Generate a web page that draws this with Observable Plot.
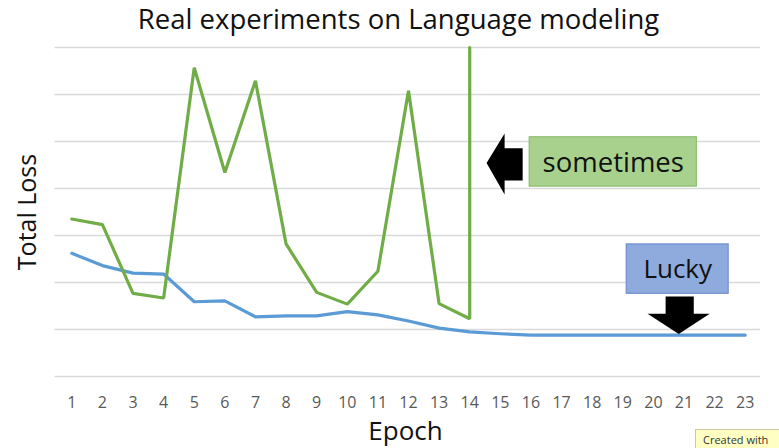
<!DOCTYPE html>
<html>
<head>
<meta charset="utf-8">
<script src="https://cdn.jsdelivr.net/npm/d3@7"></script>
<script src="https://cdn.jsdelivr.net/npm/@observablehq/plot@0.6"></script>
<style>
  html, body { margin: 0; padding: 0; background: #fff; }
  #wrap { position: relative; width: 779px; height: 448px; overflow: hidden; }
  #tip { position: absolute; left: 695px; top: 429px; width: 90px; height: 24px;
         background: #ffffc4; border: 1px solid #c9c9a0; box-sizing: border-box;
         font: 11px "Open Sans", sans-serif; color: #333; padding: 2px 0 0 7px; }
</style>
</head>
<body>
<div id="wrap"><div id="chart"></div><div id="tip">Created with</div></div>
<script>
// ---- data ----
const title = "Real experiments on Language modeling";
const xLabel = "Epoch";
const yLabel = "Total Loss";
const epochs = [1,2,3,4,5,6,7,8,9,10,11,12,13,14,15,16,17,18,19,20,21,22,23];
const luckyLoss = [2.62,2.36,2.20,2.18,1.59,1.61,1.27,1.29,1.29,1.38,1.31,1.18,1.03,0.95,0.91,0.88,0.88,0.88,0.88,0.88,0.88,0.88,0.88];
const sometimesEpochs = [1,2,3,4,5,6,7,8,9,10,11,12,13,14,14];
const sometimesLoss = [3.35,3.23,1.77,1.67,6.57,4.34,6.29,2.82,1.79,1.54,2.24,6.08,1.55,1.23,7.0];
const gridTicks = [0,1,2,3,4,5,6,7];
// annotation labels (callouts)
const calloutLabels = ["sometimes", "Lucky"];
const calloutFills = ["#a9d18e", "#8faadc"];
const calloutStrokes = ["#8cbf6e", "#6f8fcf"];
const calloutSizes = [27.5, 26];
const calloutX1 = [15.96, 19.13];
const calloutX2 = [21.42, 22.46];
const calloutY1 = [4.04, 1.76];
const calloutY2 = [5.09, 2.81];
// block arrows (outline in data units)
const leftArrowX = [14.55, 15.14, 15.14, 15.73, 15.73, 15.14, 15.14, 14.55];
const leftArrowY = [4.54, 5.17, 4.855, 4.855, 4.17, 4.17, 3.87, 4.54];
const downArrowX = [20.83, 19.81, 20.40, 20.40, 21.32, 21.32, 21.84, 20.83];
const downArrowY = [0.905, 1.334, 1.334, 1.70, 1.70, 1.334, 1.334, 0.905];

// ---- tables ----
const lucky = epochs.map((e, i) => ({epoch: e, loss: luckyLoss[i]}));
const sometimes = sometimesEpochs.map((e, i) => ({epoch: e, loss: sometimesLoss[i]}));
const callouts = calloutLabels.map((t, i) => ({
  text: t, x1: calloutX1[i], x2: calloutX2[i], y1: calloutY1[i], y2: calloutY2[i],
  fill: calloutFills[i], stroke: calloutStrokes[i], size: calloutSizes[i]
}));
const leftArrow = leftArrowX.map((x, i) => ({x, y: leftArrowY[i]}));
const downArrow = downArrowX.map((x, i) => ({x, y: downArrowY[i]}));

const FONT = "'Open Sans', sans-serif";

const chart = Plot.plot({
  width: 779,
  height: 448,
  marginLeft: 56,
  marginRight: 19,
  marginTop: 47,
  marginBottom: 72,
  style: {fontFamily: FONT, background: "#fff"},
  x: {domain: [0.5, 23.5], axis: null},
  y: {domain: [0, 7], axis: null},
  marks: [
    Plot.ruleY(gridTicks, {stroke: "#d9d9d9", strokeWidth: 1.5, x1: 0.45, x2: 23.5}),
    Plot.line(lucky, {x: "epoch", y: "loss", stroke: "#5b9bd5", strokeWidth: 3.2, strokeLinejoin: "round"}),
    Plot.line(sometimes, {x: "epoch", y: "loss", stroke: "#70ad47", strokeWidth: 3.2, strokeLinejoin: "miter"}),
    Plot.rect(callouts, {x1: "x1", x2: "x2", y1: "y1", y2: "y2", fill: "fill", stroke: "stroke", strokeWidth: 1.2}),
    Plot.text(callouts.slice(0, 1), {x: d => (d.x1 + d.x2) / 2, y: d => (d.y1 + d.y2) / 2, text: "text",
      fontSize: calloutSizes[0], fill: "#111", lineAnchor: "middle", dy: 1}),
    Plot.text(callouts.slice(1), {x: d => (d.x1 + d.x2) / 2, y: d => (d.y1 + d.y2) / 2, text: "text",
      fontSize: calloutSizes[1], fill: "#111", lineAnchor: "middle", dy: 1}),
    Plot.line(leftArrow, {x: "x", y: "y", fill: "#000", stroke: "none", curve: "linear-closed"}),
    Plot.line(downArrow, {x: "x", y: "y", fill: "#000", stroke: "none", curve: "linear-closed"}),
    Plot.axisX(epochs, {tickSize: 0, tickPadding: 20, fontSize: 16, fill: "#595959", label: null, tickFormat: d => d}),
    Plot.text([xLabel], {frameAnchor: "bottom", dy: 55, dx: -3, fontSize: 26, fill: "#111", lineAnchor: "middle"}),
    Plot.text([yLabel], {frameAnchor: "left", textAnchor: "middle", rotate: -90, dx: -29, fontSize: 25, fill: "#111", lineAnchor: "middle"}),
    Plot.text([title], {frameAnchor: "top", dy: -27, dx: -10, fontSize: 27.5, fill: "#111", lineAnchor: "middle"})
  ]
});
document.getElementById("chart").appendChild(chart);
</script>
</body>
</html>
